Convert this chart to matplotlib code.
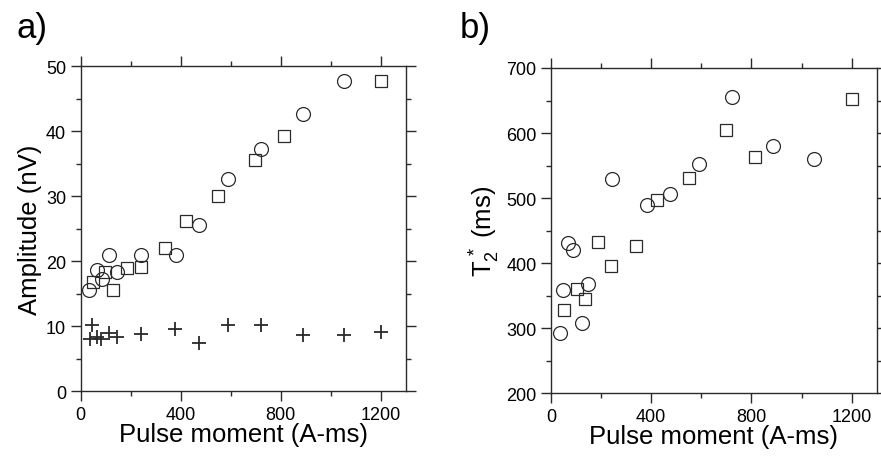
import matplotlib
matplotlib.use('Agg')
import matplotlib.pyplot as plt
from matplotlib.ticker import MultipleLocator

plt.rcParams['font.family'] = ['Liberation Sans', 'DejaVu Sans']
plt.rcParams['mathtext.fontset'] = 'custom'
plt.rcParams['mathtext.rm'] = 'Liberation Sans'
plt.rcParams['mathtext.it'] = 'Liberation Sans:italic'

# panel a) amplitude
amp_circ_q = [33, 64, 86, 115, 144, 240, 380, 475, 590, 720, 888, 1052]
amp_circ = [15.5, 18.7, 17.3, 20.9, 18.4, 20.9, 21.0, 25.5, 32.6, 37.3, 42.6, 47.7]
amp_sq_q = [48, 97, 131, 184, 240, 338, 421, 550, 696, 812, 1202]
amp_sq = [16.8, 18.4, 15.5, 18.9, 19.1, 22.1, 26.1, 30.0, 35.6, 39.3, 47.7]
noise_q = [37, 47, 64, 80, 115, 147, 240, 379, 475, 590, 721, 888, 1052, 1201]
noise = [8.1, 10.2, 8.3, 8.1, 8.9, 8.3, 8.8, 9.6, 7.4, 10.2, 10.2, 8.6, 8.6, 9.1]

# panel b) T2*
t2_circ_q = [37, 49, 69, 86, 122, 148, 242, 382, 475, 591, 724, 887, 1050]
t2_circ = [293, 359, 431, 420, 308, 368, 529, 489, 507, 553, 656, 580, 560]
t2_sq_q = [52, 102, 134, 186, 241, 338, 423, 552, 697, 813, 1200]
t2_sq = [328, 361, 345, 433, 395, 427, 497, 531, 604, 563, 653]

col = '#2a2a2a'
fig = plt.figure(figsize=(8.81, 4.64), dpi=100)
ax1 = fig.add_axes([0.0916, 0.1545, 0.3689, 0.7011])
ax2 = fig.add_axes([0.6254, 0.1502, 0.3697, 0.7011])

mk = dict(linestyle='none', markerfacecolor='none', markeredgecolor=col, markeredgewidth=0.9)
ax1.plot(amp_circ_q, amp_circ, marker='o', markersize=10, **mk)
ax1.plot(amp_sq_q, amp_sq, marker='s', markersize=8.5, **mk)
ax1.plot(noise_q, noise, marker='+', markersize=9.5, linestyle='none',
         markeredgecolor=col, markeredgewidth=1.3)
ax2.plot(t2_circ_q, t2_circ, marker='o', markersize=10, **mk)
ax2.plot(t2_sq_q, t2_sq, marker='s', markersize=8.5, **mk)

for ax in (ax1, ax2):
    ax.set_xlim(0, 1300)
    ax.xaxis.set_major_locator(MultipleLocator(400))
    ax.xaxis.set_minor_locator(MultipleLocator(200))
    for s in ax.spines.values():
        s.set_linewidth(1.0)
        s.set_color(col)
    ax.tick_params(which='both', direction='out', top=True, right=True,
                   color=col, width=1.0, labelsize=13, pad=3)
    ax.tick_params(which='major', length=7.5)
    ax.tick_params(which='minor', length=3.5)
    ax.set_xlabel('Pulse moment (A-ms)', fontsize=18.5, labelpad=-1)

ax1.set_ylim(0, 50)
ax1.yaxis.set_major_locator(MultipleLocator(10))
ax1.yaxis.set_minor_locator(MultipleLocator(5))
ax1.set_ylabel('Amplitude (nV)', fontsize=18.5, labelpad=3)

ax2.set_ylim(200, 700)
ax2.yaxis.set_major_locator(MultipleLocator(100))
ax2.yaxis.set_minor_locator(MultipleLocator(50))
ax2.set_ylabel(r'T$_2^{\,*}$ (ms)', fontsize=18.5, labelpad=3)

fig.text(0.019, 0.975, 'a)', fontsize=25, va='top', ha='left')
fig.text(0.522, 0.975, 'b)', fontsize=25, va='top', ha='left')

fig.savefig('out.png', dpi=100)
